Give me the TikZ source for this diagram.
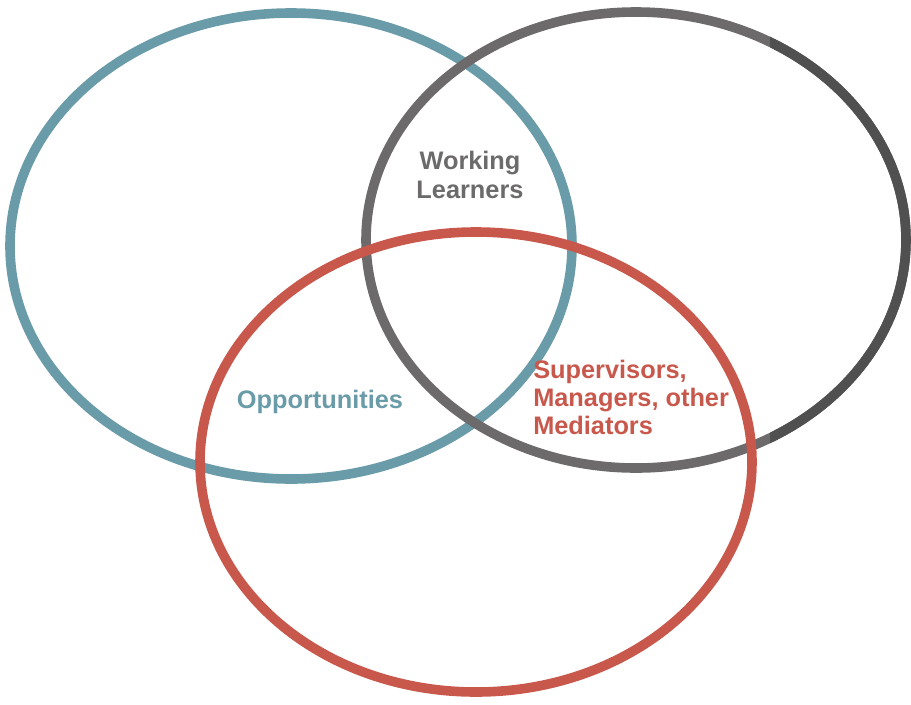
\documentclass[tikz,border=0pt]{standalone}
\usepackage{fontspec}
\setmainfont{Liberation Sans}
\usetikzlibrary{positioning}
\definecolor{opblue}{HTML}{6A9BA8}
\definecolor{wlgray}{HTML}{6C6A6B}
\definecolor{wldark}{HTML}{505050}
\definecolor{smred}{HTML}{C9584C}
\tikzset{ring/.style={line width=7.2pt},
lbl/.style={font=\fontsize{19}{22}\selectfont\bfseries,align=left,inner sep=0pt}}

\begin{document}
\begin{tikzpicture}[x=0.75pt,y=-0.75pt]
\useasboundingbox (0,0) rectangle (911,704);
\draw[ring,opblue] (291,246) ellipse [x radius=281, y radius=233];
\draw[ring,wlgray] (636,240) ellipse [x radius=270, y radius=228];
% darker right end of the grey ring
\begin{scope}
\clip (770,0) rectangle (911,704);
\draw[ring,wldark] (636,240) ellipse [x radius=270, y radius=228];
\end{scope}
\draw[ring,smred] (476,462) ellipse [x radius=276, y radius=230];
\draw
(470,175)node[lbl,wlgray,align=center](WL){Working\\Learners}
(320,402)node[lbl,opblue](Op){Opportunities}
(533,397)node[lbl,smred,anchor=west,font=\fontsize{19}{21}\selectfont\bfseries](Sup){Supervisors,\\Managers, other\\Mediators}
;
\end{tikzpicture}
\end{document}
